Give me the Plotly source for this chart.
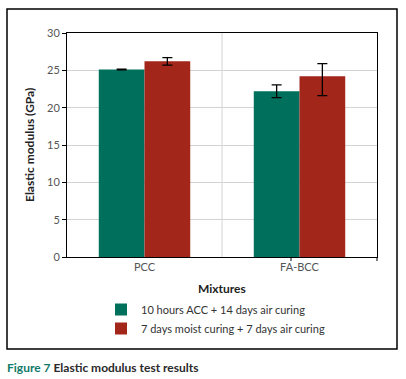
import plotly.graph_objects as go

categories = ["PCC", "FA-BCC"]
series_names = ["10 hours ACC + 14 days air curing", "7 days moist curing + 7 days air curing"]
acc_values = [25.1, 22.2]
acc_err_plus = [0.05, 0.85]
acc_err_minus = [0.05, 0.85]
moist_values = [26.2, 24.2]
moist_err_plus = [0.5, 1.7]
moist_err_minus = [0.5, 2.6]
y_ticks = [0, 5, 10, 15, 20, 25, 30]

GREEN = "#00705C"
RED = "#A2261A"
W, H = 406, 379
L, R, T, B = 67, 377, 33, 257

def px(x):
    return (x - L) / (R - L)

def py(y):
    return (B - y) / (B - T)

FONT = "Lato"

fig = go.Figure()
fig.add_trace(go.Bar(
    x=categories, y=acc_values, name=series_names[0], marker_color=GREEN,
    marker_line_width=0,
    error_y=dict(type="data", symmetric=False, array=acc_err_plus, arrayminus=acc_err_minus,
                 color="black", thickness=1.3, width=5)))
fig.add_trace(go.Bar(
    x=categories, y=moist_values, name=series_names[1], marker_color=RED,
    marker_line_width=0,
    error_y=dict(type="data", symmetric=False, array=moist_err_plus, arrayminus=moist_err_minus,
                 color="black", thickness=1.3, width=5)))

shapes = [
    dict(type="rect", xref="paper", yref="paper", x0=px(7), x1=px(397), y0=py(349), y1=py(9),
         line=dict(color="black", width=1.5), layer="below"),
    dict(type="line", xref="x", yref="paper", x0=0.5, x1=0.5, y0=0, y1=1,
         line=dict(color="#D3D3D3", width=1), layer="below"),
    dict(type="line", xref="paper", yref="paper", x0=px(291), x1=px(291), y0=0, y1=py(261),
         line=dict(color="black", width=1)),
    dict(type="line", xref="paper", yref="paper", x0=1, x1=1, y0=0, y1=py(261),
         line=dict(color="black", width=1)),
]

annotations = [
    dict(text="<b>Elastic modulus (GPa)</b>", xref="paper", yref="paper", x=px(29), y=0.5,
         textangle=-90, showarrow=False, xanchor="center", yanchor="middle",
         font=dict(family=FONT, size=12, color="#222222")),
    dict(text="<b>Mixtures</b>", xref="paper", yref="paper", x=px(222), y=py(288),
         showarrow=False, xanchor="center", yanchor="middle",
         font=dict(family=FONT, size=12, color="#222222")),
    dict(text="<b><span style='color:#127A68'>Figure 7</span> Elastic modulus test results</b>",
         xref="paper", yref="paper", x=px(5), y=py(367), showarrow=False,
         xanchor="left", yanchor="middle",
         font=dict(family=FONT, size=12, color="#2A2A2A")),
]

fig.update_layout(
    width=W, height=H,
    margin=dict(l=L, r=W - R, t=T, b=H - B),
    paper_bgcolor="white", plot_bgcolor="white",
    barmode="group", bargap=0.41, bargroupgap=0,
    font=dict(family=FONT, size=11, color="#555555"),
    showlegend=True,
    legend=dict(x=px(101), y=py(295), xanchor="left", yanchor="top",
                orientation="v", font=dict(family=FONT, size=11, color="#333333"),
                tracegroupgap=0, itemwidth=30, bgcolor="rgba(0,0,0,0)"),
    shapes=shapes,
    annotations=annotations,
)
fig.update_xaxes(showline=True, linecolor="black", linewidth=1, mirror=True,
                 ticks="", showgrid=False, tickfont=dict(family=FONT, size=11, color="#555555"),
                 range=[-0.5, 1.5])
fig.update_yaxes(range=[0, 30], tickvals=y_ticks, showline=True, linecolor="black", linewidth=1,
                 mirror=True, ticks="outside", ticklen=4, tickcolor="black",
                 showgrid=True, gridcolor="#D3D3D3", gridwidth=1, zeroline=False,
                 tickfont=dict(family=FONT, size=11, color="#555555"))

fig.write_html("out.html", config={"displayModeBar": False},
               post_script="document.body.style.margin='0';document.body.style.overflow='hidden';")
